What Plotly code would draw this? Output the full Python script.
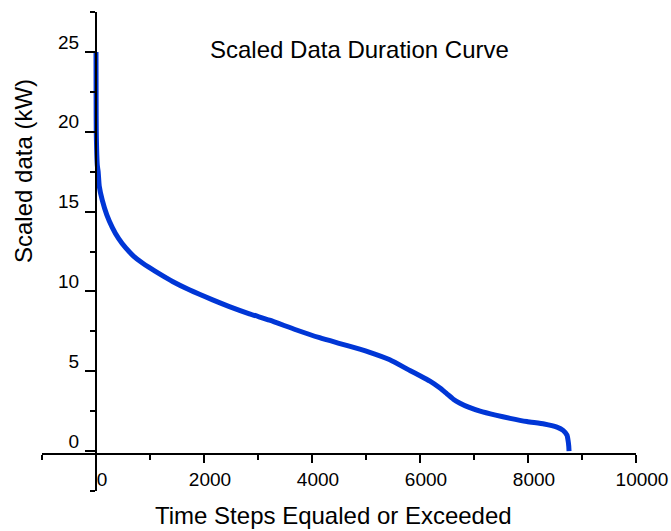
import plotly.graph_objects as go

W, H = 671, 531

# Data (time steps vs scaled data in kW)
time_steps = [0, 2, 5, 24, 40, 60, 117, 200, 303, 420, 551, 700, 860, 984, 1200, 1417,
              1727, 2160, 2470, 2841, 3213, 3700, 4141, 4500, 4884, 5070, 5441, 5812,
              6000, 6184, 6370, 6494, 6617, 6741, 6900, 7112, 7400, 7669, 7979, 8300,
              8536, 8650, 8722, 8745, 8755, 8760]
scaled_kw = [25.0, 22.0, 20.0, 17.9, 17.5, 16.6, 15.7, 14.8, 14.0, 13.3, 12.72, 12.2,
             11.78, 11.5, 11.05, 10.62, 10.1, 9.47, 9.05, 8.6, 8.2, 7.6, 7.1, 6.75, 6.38,
             6.18, 5.72, 5.05, 4.72, 4.38, 3.95, 3.6, 3.25, 3.0, 2.75, 2.5, 2.25, 2.05, 1.85,
             1.7, 1.5, 1.3, 1.0, 0.6, 0.3, 0.0]

x_major = [0, 2000, 4000, 6000, 8000, 10000]
x_minor = [-1000, 1000, 3000, 5000, 7000, 9000]
y_major = [0, 5, 10, 15, 20, 25]
y_minor = [-2.5, 2.5, 7.5, 12.5, 17.5, 22.5, 27.5]

FONT = "Liberation Sans, Arial, sans-serif"

fig = go.Figure()
fig.add_trace(go.Scatter(x=time_steps, y=scaled_kw, mode="lines",
                         line=dict(color="#0036d6", width=5, shape="spline", smoothing=0.5),
                         showlegend=False))

def px_x(p):
    return p / W

def px_y(p):
    return 1 - p / H

fig.update_layout(
    width=W, height=H,
    margin=dict(l=0, r=0, t=0, b=0, autoexpand=False),
    paper_bgcolor="white", plot_bgcolor="white",
    font=dict(family=FONT, color="black"),
    xaxis=dict(
        range=[-1000, 10000], domain=[px_x(42), px_x(636)],
        anchor="free", position=px_y(454), automargin=False,
        showgrid=False, zeroline=False,
        showline=True, linecolor="black", linewidth=2,
        ticks="outside", ticklen=8, tickwidth=2, tickcolor="black",
        tickvals=x_major, ticktext=[str(v) for v in x_major],
        tickfont=dict(size=19, family=FONT, color="black"),
        ticklabelshift=6,
        minor=dict(tickvals=x_minor, ticks="outside", ticklen=5, tickwidth=2,
                   tickcolor="black", showgrid=False),
    ),
    yaxis=dict(
        range=[-2.5, 27.5], domain=[px_y(491), px_y(12)],
        anchor="free", position=px_x(96), automargin=False,
        showgrid=False, zeroline=False,
        showline=True, linecolor="black", linewidth=2,
        ticks="outside", ticklen=10, tickwidth=2, tickcolor="black",
        tickvals=y_major, ticktext=[str(v) for v in y_major],
        tickfont=dict(size=19, family=FONT, color="black"),
        ticklabelshift=-10, ticklabelstandoff=2,
        minor=dict(tickvals=y_minor, ticks="outside", ticklen=5, tickwidth=2,
                   tickcolor="black", showgrid=False),
    ),
    annotations=[
        dict(text="Scaled Data Duration Curve", xref="paper", yref="paper",
             x=px_x(359), y=px_y(50), xanchor="center", yanchor="middle",
             showarrow=False, font=dict(size=24, family=FONT, color="black")),
        dict(text="Time Steps Equaled or Exceeded", xref="paper", yref="paper",
             x=px_x(333), y=px_y(515), xanchor="center", yanchor="middle",
             showarrow=False, font=dict(size=24, family=FONT, color="black")),
        dict(text="Scaled data (kW)", xref="paper", yref="paper",
             x=px_x(23), y=px_y(171), xanchor="center", yanchor="middle",
             textangle=-90,
             showarrow=False, font=dict(size=24, family=FONT, color="black")),
    ],
)

fig.write_html("out.html")
